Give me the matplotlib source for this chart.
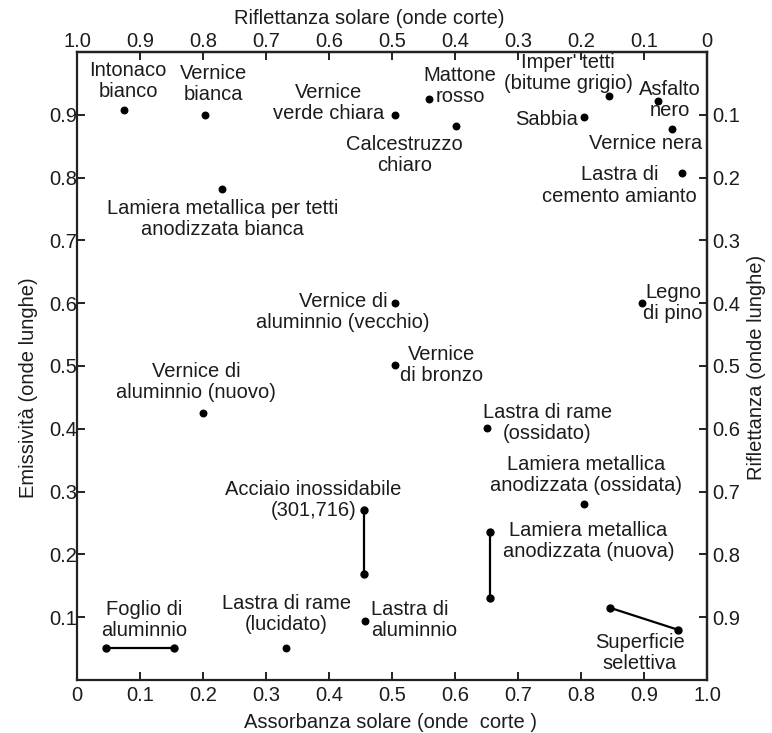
import matplotlib
matplotlib.use("Agg")
import matplotlib.pyplot as plt
import numpy as np

plt.rcParams['font.family'] = ['Liberation Sans', 'DejaVu Sans']

# Single materials: (label, absorbance, emissivity)
point_labels = ["Intonaco\nbianco", "Vernice\nbianca", "Vernice\nverde chiara", "Mattone\nrosso",
                "Calcestruzzo\nchiaro", "Imper' tetti\n(bitume grigio)", "Sabbia", "Asfalto\nnero",
                "Vernice nera", "Lastra di\ncemento amianto",
                "Lamiera metallica per tetti\nanodizzata bianca",
                "Vernice di\naluminnio (vecchio)", "Vernice\ndi bronzo",
                "Vernice di\naluminnio (nuovo)", "Legno\ndi pino",
                "Lastra di rame\n(ossidato)", "Lamiera metallica\nanodizzata (ossidata)",
                "Lastra di\naluminnio", "Lastra di rame\n(lucidato)"]
point_x = [0.075, 0.203, 0.505, 0.559, 0.602, 0.845, 0.805, 0.922, 0.944, 0.960,
           0.230, 0.505, 0.505, 0.200, 0.897, 0.651, 0.805, 0.457, 0.332]
point_y = [0.908, 0.900, 0.900, 0.925, 0.882, 0.930, 0.896, 0.922, 0.877, 0.808,
           0.782, 0.600, 0.502, 0.425, 0.600, 0.401, 0.280, 0.094, 0.051]

# Ranges (segments): (label, x0, y0, x1, y1)
range_labels = ["Acciaio inossidabile\n(301,716)", "Lamiera metallica\nanodizzata (nuova)",
                "Superficie\nselettiva", "Foglio di\naluminnio"]
range_x0 = [0.455, 0.656, 0.846, 0.046]
range_y0 = [0.271, 0.236, 0.115, 0.051]
range_x1 = [0.455, 0.656, 0.954, 0.154]
range_y1 = [0.169, 0.131, 0.080, 0.051]

bottom_ticks = [0, 0.1, 0.2, 0.3, 0.4, 0.5, 0.6, 0.7, 0.8, 0.9, 1.0]
bottom_labels = ["0", "0.1", "0.2", "0.3", "0.4", "0.5", "0.6", "0.7", "0.8", "0.9", "1.0"]
top_labels = ["1.0", "0.9", "0.8", "0.7", "0.6", "0.5", "0.4", "0.3", "0.2", "0.1", "0"]
side_ticks = [0.1, 0.2, 0.3, 0.4, 0.5, 0.6, 0.7, 0.8, 0.9]
left_labels = ["0.1", "0.2", "0.3", "0.4", "0.5", "0.6", "0.7", "0.8", "0.9"]
right_labels = ["0.9", "0.8", "0.7", "0.6", "0.5", "0.4", "0.3", "0.2", "0.1"]

# label offsets in pixels (dx right, dy down) relative to the point, plus alignment
point_offsets = [(4, -29, 'center'), (9, -31, 'center'), (-67, -12, 'center'), (31, -13, 'center'),
                 (-52, 29, 'center'), (-41, -23, 'center'), (-6, 2, 'right'), (12, -1, 'center'),
                 (-26, 14, 'center'), (-62, 13, 'center'), (1, 30, 'center'),
                 (-52, 9, 'center'), (46, 0, 'center'), (-7, -31, 'center'), (31, 0, 'center'),
                 (60, -5, 'center'), (2, -29, 'center'), (6, -1, 'left'), (0, -34, 'center')]
range_offsets = [(-50, -10, 'center'), (98, 9, 'center'), (-38, 23, 'center'), (38, -28, 'center')]
range_anchor_end = [False, False, True, False]

FS = 14.5
TC = '#1c1c1c'
LS = 1.15

fig = plt.figure(figsize=(7.72, 7.33), dpi=100)
ax = fig.add_axes([77 / 772, 53 / 733, 630 / 772, (680 - 52) / 733])
ax.set_xlim(0, 1)
ax.set_ylim(0, 1)

ax.scatter(point_x, point_y, s=22, color='black', zorder=3)
for x0, y0, x1, y1 in zip(range_x0, range_y0, range_x1, range_y1):
    ax.plot([x0, x1], [y0, y1], color='black', lw=1.6, marker='o', ms=5, zorder=3)

for lab, x, y, (dx, dy, ha) in zip(point_labels, point_x, point_y, point_offsets):
    ax.annotate(lab, (x, y), xytext=(dx, -dy), textcoords='offset pixels',
                ha=ha, va='center', multialignment=ha, fontsize=FS, color=TC,
                linespacing=LS)
for lab, x0, y0, x1, y1, end, (dx, dy, ha) in zip(range_labels, range_x0, range_y0, range_x1,
                                                  range_y1, range_anchor_end, range_offsets):
    ax_, ay_ = (x1, y1) if end else (x0, y0)
    ax.annotate(lab, (ax_, ay_), xytext=(dx, -dy), textcoords='offset pixels',
                ha=ha, va='center', multialignment=ha, fontsize=FS, color=TC,
                linespacing=LS)

for sp in ax.spines.values():
    sp.set_linewidth(1.6)
    sp.set_color('#222222')

ax.set_xticks(bottom_ticks)
ax.set_xticklabels(bottom_labels)
ax.set_yticks(side_ticks)
ax.set_yticklabels(left_labels)
ax.tick_params(axis='both', direction='in', length=6, width=1.4, labelsize=FS,
               colors='#222222', labelcolor=TC)
ax.tick_params(axis='x', pad=4)
ax.tick_params(axis='y', pad=0)

top = ax.secondary_xaxis('top')
top.set_xticks(bottom_ticks)
top.set_xticklabels(top_labels)
top.tick_params(direction='in', length=6, width=1.4, labelsize=FS, colors='#222222',
                labelcolor=TC, pad=1)
top.spines['top'].set_linewidth(1.6)

right = ax.secondary_yaxis('right')
right.set_yticks(side_ticks)
right.set_yticklabels(right_labels)
right.tick_params(direction='in', length=6, width=1.4, labelsize=FS, colors='#222222',
                  labelcolor=TC, pad=4)
right.spines['right'].set_linewidth(1.6)

fig.text(369 / 772, 1 - 18 / 733, "Riflettanza solare (onde corte)", ha='center', va='center',
         fontsize=FS, color=TC)
fig.text(390 / 772, 1 - 722 / 733, "Assorbanza solare (onde  corte )", ha='center', va='center',
         fontsize=FS, color=TC)
fig.text(29 / 772, 1 - 388 / 733, "Emissività (onde lunghe)", ha='center', va='center',
         rotation=90, fontsize=FS, color=TC)
fig.text(757 / 772, 1 - 367 / 733, "Riflettanza (onde lunghe)", ha='center', va='center',
         rotation=90, fontsize=FS, color=TC)

fig.savefig("out.png", dpi=100)
